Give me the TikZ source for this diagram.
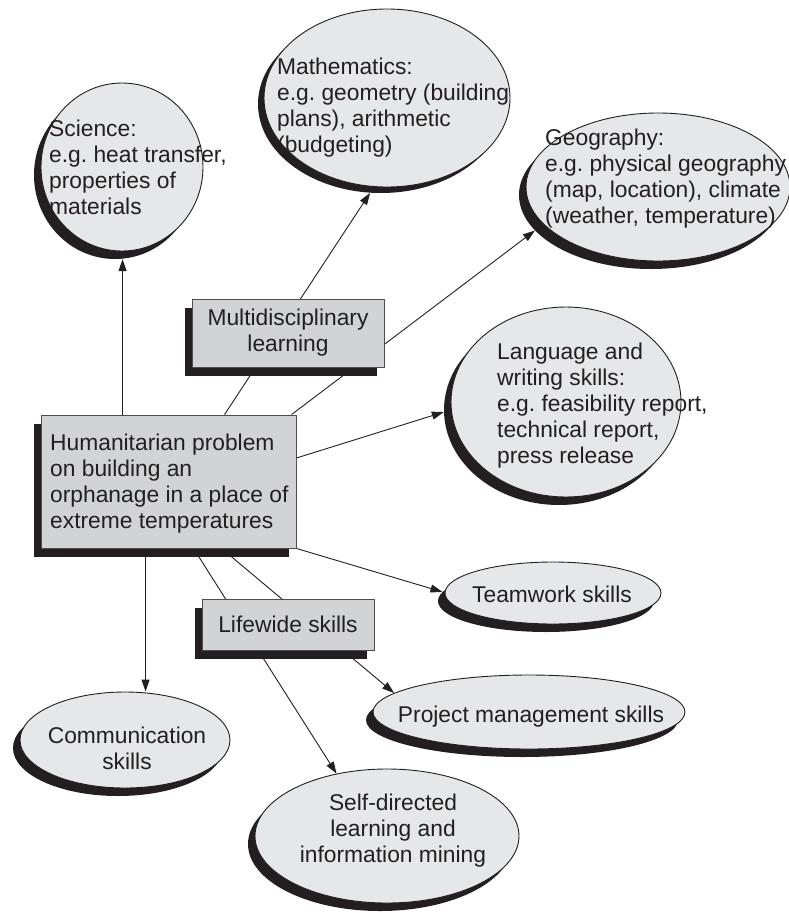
\documentclass[tikz,border=0pt]{standalone}
\usepackage{fontspec}
\setmainfont{Liberation Sans}
\usetikzlibrary{arrows.meta,backgrounds,shapes.geometric}
\definecolor{ink}{HTML}{231F20}
\definecolor{ellfill}{HTML}{E6E7E8}
\definecolor{boxfill}{HTML}{D1D3D4}
\definecolor{boxline}{HTML}{4D4D4F}
\newcommand\dfont{\fontsize{22.8}{26}\selectfont\frenchspacing}
\tikzset{
  ell/.style={ellipse, draw=ink, line width=0.9pt, fill=ellfill, inner sep=0pt},
  ellsh/.style={ellipse, fill=ink, inner sep=0pt},
  box/.style={rectangle, draw=boxline, line width=0.9pt, fill=boxfill, inner sep=0pt,
    font=\dfont, text=ink, align=center},
  boxsh/.style={rectangle, fill=ink, inner sep=0pt},
  txtl/.style={anchor=north west, inner sep=0pt, align=left, font=\dfont, text=ink},
  txtc/.style={anchor=north, inner sep=0pt, align=center, font=\dfont, text=ink},
  txtb/.style={anchor=base, inner sep=0pt, font=\dfont, text=ink},
  conn/.style={draw=ink, line width=0.9pt},
  arr/.style={conn, -{Triangle[length=12pt,width=8pt]}}
}
\begin{document}
\begin{tikzpicture}[x=1pt,y=-1pt]
\useasboundingbox (0,0) rectangle (789,913);

% ---- subject ellipses (shadow first, then face, then text) ----
\node[ellsh, minimum width=162pt, minimum height=168pt] (sci-sh) at (115,175) {};
\node[ell,   minimum width=162pt, minimum height=168pt] (sci) at (122,167) {};
\node[txtl] (sci-t) at (49,119.6) {Science:\\e.g. heat transfer,\\properties of\\materials};

\node[ellsh, minimum width=246pt, minimum height=178pt] (math-sh) at (381,104) {};
\node[ell,   minimum width=246pt, minimum height=178pt] (math) at (387,98) {};
\node[txtl] (math-t) at (277,57.6) {Mathematics:\\e.g. geometry (building\\plans), arithmetic\\(budgeting)};

\node[ellsh, minimum width=264pt, minimum height=148pt] (geo-sh) at (651,195) {};
\node[ell,   minimum width=264pt, minimum height=148pt] (geo) at (658,187) {};
\node[txtl] (geo-t) at (545,128.3) {Geography:\\e.g. physical geography\\(map, location), climate\\(weather, temperature)};

\node[ellsh, minimum width=230pt, minimum height=190pt] (lang-sh) at (559,410) {};
\node[ell,   minimum width=230pt, minimum height=190pt] (lang) at (566,402) {};
\node[txtl] (lang-t) at (497,342.6) {Language and\\writing skills:\\e.g. feasibility report,\\technical report,\\press release};

% ---- skill ellipses ----
\node[ellsh, minimum width=216pt, minimum height=62pt] (team-sh) at (546,601) {};
\node[ell,   minimum width=216pt, minimum height=62pt] (team) at (553,593) {};
\node[txtb] (team-t) at (552,602) {Teamwork skills};

\node[ellsh, minimum width=312pt, minimum height=74pt] (proj-sh) at (522,720) {};
\node[ell,   minimum width=312pt, minimum height=74pt] (proj) at (529,712) {};
\node[txtb] (proj-t) at (531,722) {Project management skills};

\node[ellsh, minimum width=210pt, minimum height=96pt] (comm-sh) at (118,748) {};
\node[ell,   minimum width=210pt, minimum height=96pt] (comm) at (125,740) {};
\node[txtc] (comm-t) at (127,726.6) {Communication\\skills};

\node[ellsh, minimum width=264pt, minimum height=134pt] (self-sh) at (380,844) {};
\node[ell,   minimum width=264pt, minimum height=134pt] (self) at (387,836) {};
\node[txtc] (self-t) at (393,793.6) {Self-directed\\learning and\\information mining};

% ---- boxes ----
\node[boxsh, minimum width=255pt, minimum height=133pt] (prob-sh) at (161,490.5) {};
\node[box,   minimum width=255pt, minimum height=133pt] (prob) at (168.5,481.5) {};
\node[txtl] (prob-t) at (50,433.6) {Humanitarian problem\\on building an\\orphanage in a place of\\extreme temperatures};

\node[boxsh, minimum width=192pt, minimum height=68pt] (multi-sh) at (281,342) {};
\node[box,   minimum width=192pt, minimum height=68pt] (multi) at (288,333) {Multidisciplinary\\learning};

\node[boxsh, minimum width=172pt, minimum height=51pt] (life-sh) at (281,633.5) {};
\node[box,   minimum width=172pt, minimum height=51pt] (life) at (288,624.5) {Lifewide skills};

% ---- connectors (behind the shapes) ----
\coordinate (s-sci)  at ([xshift=82pt]prob.north west);
\coordinate (s-math) at ([xshift=184pt]prob.north west);
\coordinate (s-geo)  at ([xshift=251pt]prob.north west);
\coordinate (s-lang) at ([yshift=23.5pt]prob.east);
\coordinate (s-comm) at ([xshift=105pt]prob.south west);
\coordinate (s-self) at ([xshift=153pt]prob.south west);
\coordinate (s-proj) at ([xshift=181pt]prob.south west);
\begin{pgfonlayer}{background}
  \draw[arr] (s-sci) -- (s-sci |- sci-sh.south);
  \draw[arr] (s-math) -- (math-sh.-97);
  \draw[arr] (s-geo) -- (geo-sh.197);
  \draw[arr] (s-lang) -- (lang-sh.181);
  \draw[arr] (prob.south east) -- (team-sh.175);
  \draw[arr] (s-comm) -- (s-comm |- comm.north);
  \draw[arr] (s-self) -- (self.129);
  \draw[arr] (s-proj) -- (proj.172);
\end{pgfonlayer}
\end{tikzpicture}
\end{document}
